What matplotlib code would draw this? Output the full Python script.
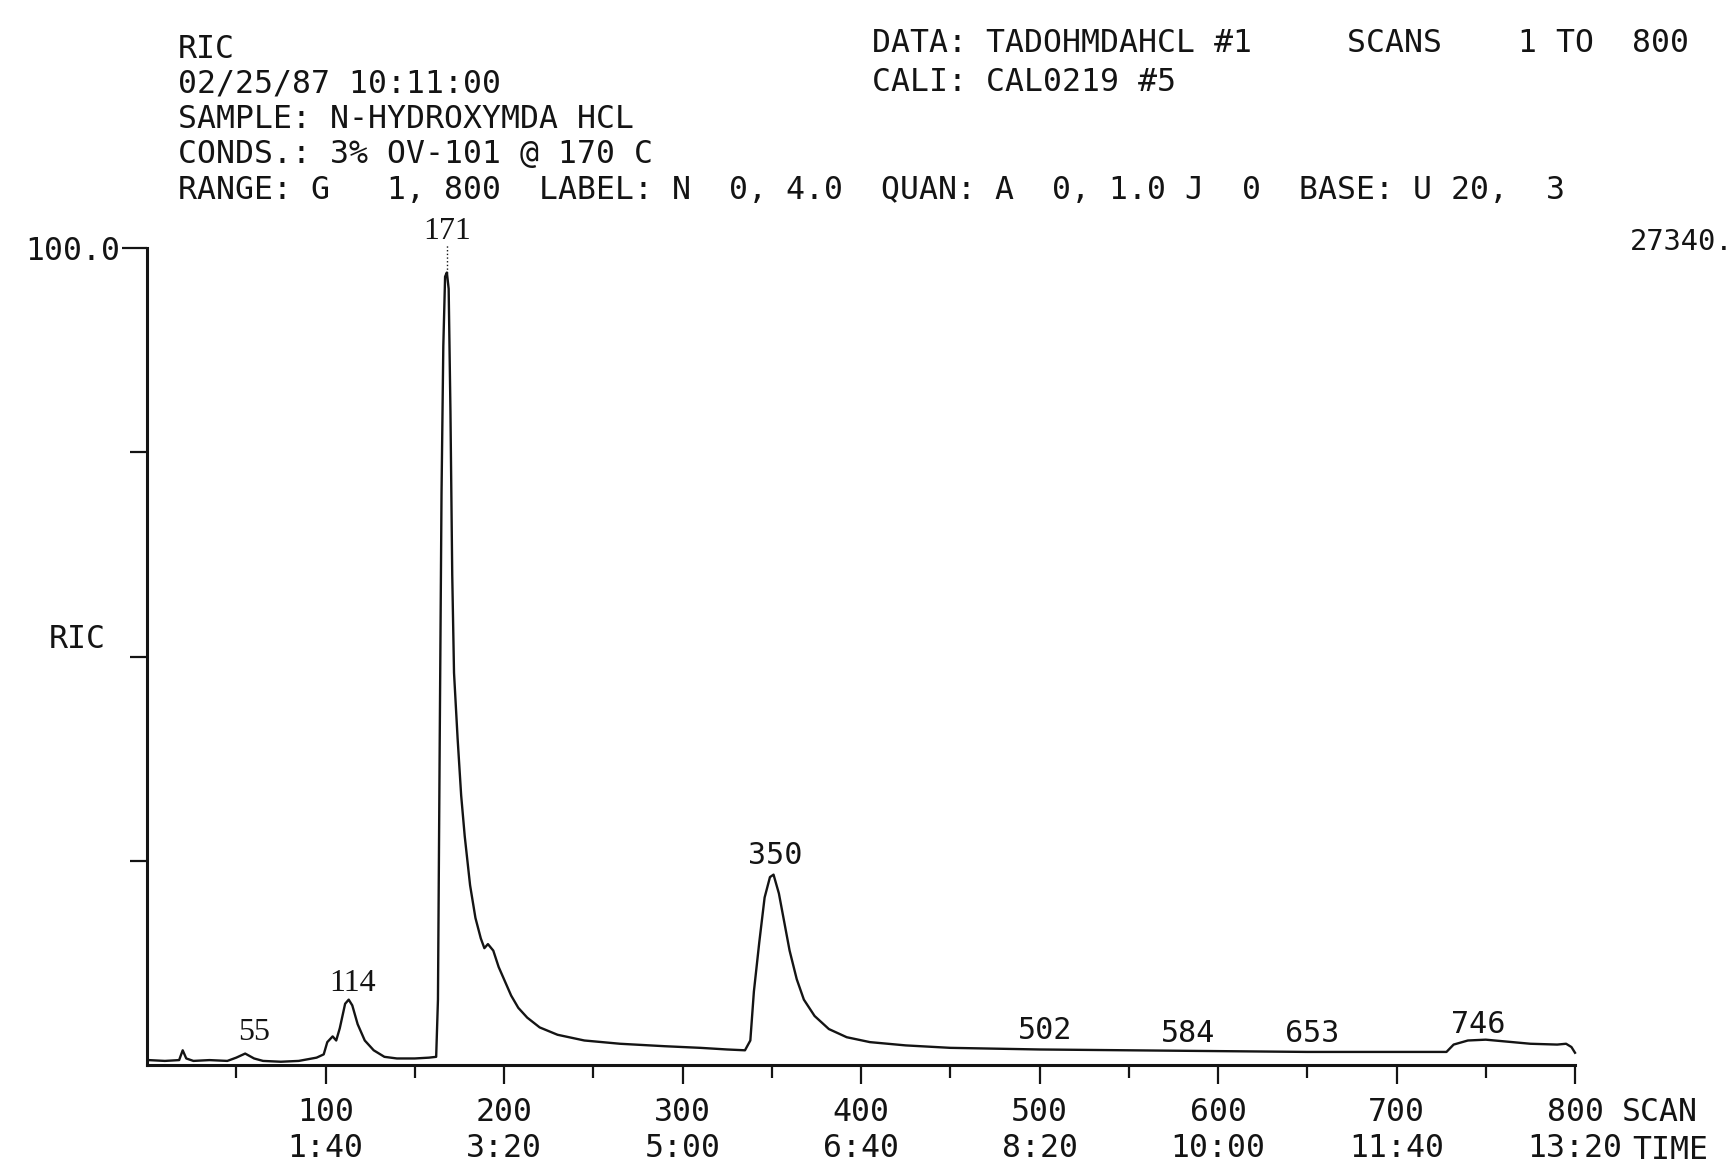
import matplotlib.pyplot as plt

plt.rcParams['font.family'] = 'DejaVu Sans Mono'

# chromatogram trace: scan number vs RIC (% of full scale)
scan = [1, 10, 18, 20, 22, 26, 35, 45, 50, 55, 60, 65, 75, 85, 95, 99,
        101, 104, 106, 108, 111, 113, 115, 118, 122, 127, 133, 140, 150, 158, 162,
        163, 164, 165, 166, 167, 168, 169, 170, 171, 172, 174, 176, 178, 181, 184,
        187, 189, 191, 194, 197, 200, 204, 208, 213, 220, 230, 245, 265, 290, 310,
        325, 335, 338, 340, 343, 346, 349, 351, 354, 357, 360, 364, 368, 374, 382,
        392, 405, 425, 450, 500, 550, 600, 650, 700, 728, 732, 740, 750, 760, 775,
        790, 795, 798, 800]
ric = [0.6, 0.5, 0.6, 1.8, 0.8, 0.5, 0.6, 0.5, 0.9, 1.4, 0.8, 0.5, 0.4, 0.5, 0.9, 1.3,
       2.8, 3.5, 3.0, 4.5, 7.5, 8.0, 7.3, 5.0, 3.0, 1.8, 1.0, 0.8, 0.8, 0.9, 1.0,
       8.0, 40.0, 70.0, 88.0, 96.5, 97.0, 95.0, 80.0, 60.0, 48.0, 40.0, 33.0, 28.0, 22.0, 18.0,
       15.5, 14.3, 14.8, 14.0, 12.0, 10.5, 8.5, 7.0, 5.8, 4.6, 3.7, 3.0, 2.6, 2.3, 2.1,
       1.9, 1.8, 3.0, 9.0, 15.0, 20.5, 23.0, 23.3, 21.0, 17.5, 14.0, 10.5, 8.0, 6.0, 4.4,
       3.4, 2.8, 2.4, 2.1, 1.9, 1.8, 1.7, 1.6, 1.6, 1.6, 2.5, 3.0, 3.1, 2.9, 2.6,
       2.5, 2.6, 2.2, 1.5]

peak_text = ['55', '114', '171', '350', '502', '584', '653', '746']
peak_x = [60, 115, 168, 352, 503, 583, 653, 746]
peak_y = [4.0, 10.0, 102.0, 25.6, 4.2, 3.8, 3.9, 5.0]
serif_peaks = ['55', '114', '171']

scan_ticks = [100, 200, 300, 400, 500, 600, 700, 800]
time_labels = ['1:40', '3:20', '5:00', '6:40', '8:20', '10:00', '11:40', '13:20']
minor_scan_ticks = [50, 150, 250, 350, 450, 550, 650, 750]

header_left = ['RIC', '02/25/87 10:11:00', 'SAMPLE: N-HYDROXYMDA HCL',
               'CONDS.: 3% OV-101 @ 170 C',
               'RANGE: G   1, 800  LABEL: N  0, 4.0  QUAN: A  0, 1.0 J  0  BASE: U 20,  3']
header_right = ['DATA: TADOHMDAHCL #1     SCANS    1 TO  800', 'CALI: CAL0219 #5']
full_scale = '27340.'

W, H = 1736, 1163
ink = '#141414'
fs = 22.7

def fx(px):
    return px / W

def fy(py):
    return 1 - py / H

fig = plt.figure(figsize=(W / 100, H / 100), dpi=100)
ax = fig.add_axes([fx(147), 98 / H, 1428 / W, 817 / H])

ax.plot(scan, ric, color=ink, lw=1.7, clip_on=False)
ax.vlines(168, 97, 100.5, colors=ink, lw=1.0, linestyles=':', clip_on=False)

ax.set_xlim(0, 800)
ax.set_ylim(0, 100)
for s in ['top', 'right']:
    ax.spines[s].set_visible(False)
for s in ['left', 'bottom']:
    ax.spines[s].set_linewidth(2.2)
    ax.spines[s].set_color(ink)

ax.set_xticks(scan_ticks)
ax.set_xticklabels([f'{s}\n{t}' for s, t in zip(scan_ticks, time_labels)])
ax.set_xticks(minor_scan_ticks, minor=True)
ax.set_yticks([100])
ax.set_yticklabels(['100.0'])
ax.set_yticks([25, 50, 75], minor=True)
ax.tick_params(axis='x', which='major', length=14, width=1.6, pad=9, labelsize=fs, colors=ink)
ax.tick_params(axis='x', which='minor', length=9, width=1.6, colors=ink)
ax.tick_params(axis='y', which='major', length=18, width=1.6, pad=1, labelsize=fs, colors=ink)
ax.tick_params(axis='y', which='minor', length=12, width=1.6, colors=ink)

ax.annotate('RIC', xy=(0, 50), xycoords=('axes fraction', 'data'),
            xytext=(-29.5, 12), textcoords='offset points',
            ha='right', va='center', fontsize=fs, color=ink)

for t, x, y in zip(peak_text, peak_x, peak_y):
    if t in serif_peaks:
        ax.text(x, y, t, ha='center', va='center', fontsize=23,
                family='Liberation Serif', color=ink)
    else:
        ax.text(x, y, t, ha='center', va='center', fontsize=fs - 1, color=ink)

# header block
for line, base in zip(header_left, [58, 93, 128, 163, 199]):
    fig.text(fx(178), fy(base), line, ha='left', va='baseline', fontsize=fs, color=ink)
for line, base in zip(header_right, [52, 91]):
    fig.text(fx(872), fy(base), line, ha='left', va='baseline', fontsize=fs, color=ink)
fig.text(fx(1733), fy(250), full_scale, ha='right', va='baseline', fontsize=fs - 2, color=ink)

fig.text(fx(1622), fy(1121), 'SCAN', ha='left', va='baseline', fontsize=fs, color=ink)
fig.text(fx(1632), fy(1159), 'TIME', ha='left', va='baseline', fontsize=fs, color=ink)

fig.savefig('out.png', dpi=100, facecolor='white')
